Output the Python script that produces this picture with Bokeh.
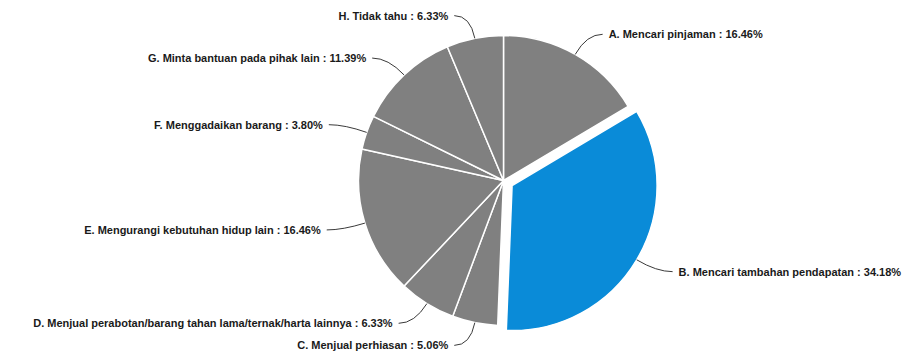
import math
from bokeh.plotting import figure
from bokeh.models import Range1d
from bokeh.core.properties import value
from bokeh.embed import file_html
from bokeh.resources import INLINE

labels = ["A. Mencari pinjaman", "B. Mencari tambahan pendapatan", "C. Menjual perhiasan",
          "D. Menjual perabotan/barang tahan lama/ternak/harta lainnya",
          "E. Mengurangi kebutuhan hidup lain", "F. Menggadaikan barang",
          "G. Minta bantuan pada pihak lain", "H. Tidak tahu"]
values = [16.46, 34.18, 5.06, 6.33, 16.46, 3.80, 11.39, 6.33]
colors = ["#808080", "#0a8bd8", "#808080", "#808080", "#808080", "#808080", "#808080", "#808080"]
explode = [0, 10, 0, 0, 0, 0, 0, 0]

W, H = 907, 360
CX, CY, R = 503, 360 - 180, 145

p = figure(width=W, height=H, output_backend="svg", toolbar_location=None,
           x_range=Range1d(0, W), y_range=Range1d(0, H), min_border=0)
p.axis.visible = False
p.grid.visible = False
p.outline_line_color = None
p.background_fill_color = "white"

total = sum(values)
cum = 0.0
for lab, v, col, ex in zip(labels, values, colors, explode):
    t0 = cum / total * 360
    t1 = (cum + v) / total * 360
    cum += v
    tm = math.radians((t0 + t1) / 2)
    ox = CX + ex * math.sin(tm)
    oy = CY + ex * math.cos(tm)
    p.wedge(x=[ox], y=[oy], radius=R, start_angle=math.radians(90 - t0),
            end_angle=math.radians(90 - t1), direction="clock",
            fill_color=col, line_color="white", line_width=1.5)
    # connector
    sx, sy = ox + R * math.sin(tm), oy + R * math.cos(tm)
    kx, ky = ox + 1.16 * R * math.sin(tm), oy + 1.16 * R * math.cos(tm)
    right = math.sin(tm) >= 0
    ex_ = kx + (16 if right else -16)
    p.quadratic(x0=[sx], y0=[sy], x1=[ex_], y1=[ky], cx=[kx], cy=[ky],
                line_color="#3a3a3a", line_width=1)
    txt = f"{lab} : {v:.2f}%"
    p.text(x=[ex_ + (6 if right else -6)], y=[ky], text=[txt],
           text_align="left" if right else "right", text_baseline="middle",
           text_font_size="11px", text_font_style="bold", text_color="#1a1a1a",
           text_font=value("Liberation Sans"))

open("out.html", "w").write(file_html(p, INLINE))
